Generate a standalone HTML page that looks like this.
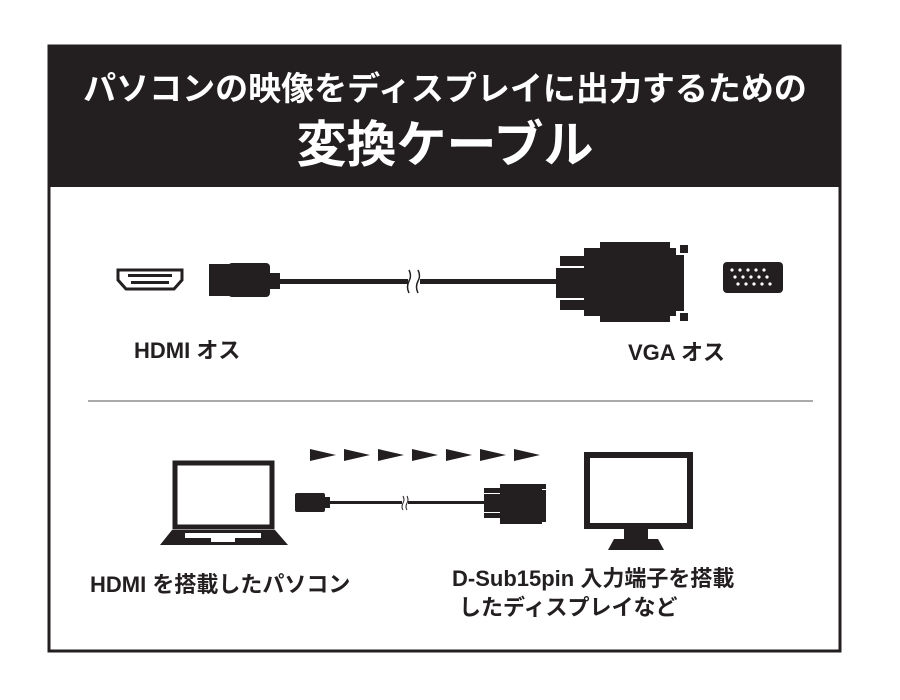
<!DOCTYPE html>
<html><head><meta charset="utf-8"><style>
html,body{margin:0;padding:0;background:#fff;}
svg{display:block}
text{font-family:"Liberation Sans","Noto Sans CJK JP",sans-serif;font-weight:bold;}
</style></head><body>
<svg width="900" height="700" viewBox="0 0 900 700">
<rect x="49" y="46" width="791" height="605" fill="#fff" stroke="#231f20" stroke-width="3"/>
<rect x="48" y="45" width="793" height="142" fill="#231f20"/>
<text x="445" y="100" fill="#fff" font-size="33" text-anchor="middle">パソコンの映像をディスプレイに出力するための</text>
<text x="445" y="162" fill="#fff" font-size="50" text-anchor="middle">変換ケーブル</text>

<!-- HDMI port -->
<path d="M118 270 H182 V280 L174 289 H126 L118 280 Z" fill="#fff" stroke="#231f20" stroke-width="3"/>
<rect x="128" y="274" width="44" height="3" fill="#231f20"/>
<rect x="131" y="281" width="38" height="3" fill="#231f20"/>
<!-- HDMI plug -->
<rect x="209" y="264" width="26" height="32" fill="#231f20"/>
<rect x="228" y="263" width="42" height="34" rx="4" fill="#231f20"/>
<rect x="268" y="273" width="12" height="16" fill="#231f20"/>
<rect x="278" y="279" width="130" height="5" fill="#231f20"/>
<rect x="420" y="279" width="140" height="5" fill="#231f20"/>
<path d="M409 270 q3 6 0 11 q-3 6 0 12 M418 270 q3 6 0 11 q-3 6 0 12" stroke="#231f20" stroke-width="1.5" fill="none"/>
<!-- VGA plug -->
<rect x="556" y="268" width="30" height="30" fill="#231f20"/>
<rect x="560" y="256" width="30" height="10" fill="#231f20"/>
<rect x="560" y="300" width="30" height="10" fill="#231f20"/>
<rect x="584" y="248" width="92" height="68" fill="#231f20"/>
<rect x="600" y="242" width="70" height="80" fill="#231f20"/>
<rect x="674" y="255" width="10" height="56" fill="#231f20"/>
<rect x="680" y="245" width="8" height="8" fill="#231f20"/>
<rect x="680" y="313" width="8" height="8" fill="#231f20"/>
<!-- VGA port -->
<rect x="723" y="262" width="60" height="31" rx="4" fill="#231f20"/>
<g fill="#fff">
<circle cx="732" cy="270" r="1.6"/><circle cx="740" cy="270" r="1.6"/><circle cx="748" cy="270" r="1.6"/><circle cx="756" cy="270" r="1.6"/><circle cx="764" cy="270" r="1.6"/>
<circle cx="735" cy="277" r="1.6"/><circle cx="743" cy="277" r="1.6"/><circle cx="751" cy="277" r="1.6"/><circle cx="759" cy="277" r="1.6"/><circle cx="767" cy="277" r="1.6"/>
<circle cx="738" cy="284" r="1.6"/><circle cx="746" cy="284" r="1.6"/><circle cx="754" cy="284" r="1.6"/><circle cx="762" cy="284" r="1.6"/><circle cx="770" cy="284" r="1.6"/>
</g>
<text x="134" y="358" font-size="22" fill="#231f20">HDMI オス</text>
<text x="628" y="360" font-size="22" fill="#231f20">VGA オス</text>
<line x1="88" y1="401" x2="813" y2="401" stroke="#555" stroke-width="1"/>

<!-- arrows -->
<g fill="#231f20">
<path d="M310 449 L336 455 L310 461Z"/><path d="M344 449 L370 455 L344 461Z"/><path d="M378 449 L404 455 L378 461Z"/><path d="M412 449 L438 455 L412 461Z"/><path d="M446 449 L472 455 L446 461Z"/><path d="M480 449 L506 455 L480 461Z"/><path d="M514 449 L540 455 L514 461Z"/>
</g>
<!-- laptop -->
<rect x="175" y="463" width="97" height="64" fill="none" stroke="#231f20" stroke-width="5"/>
<path d="M172 530 H275 L288 545 H160 Z" fill="#231f20"/>
<rect x="185" y="533" width="76" height="5" fill="#fff"/>
<rect x="211" y="538" width="24" height="4" fill="#fff"/>
<!-- small cable -->
<rect x="295" y="493" width="30" height="19" rx="2" fill="#231f20"/>
<rect x="323" y="497" width="7" height="11" fill="#231f20"/>
<rect x="330" y="501" width="72" height="3" fill="#231f20"/>
<rect x="408" y="501" width="78" height="3" fill="#231f20"/>
<path d="M403 496 q2 4 0 7 q-2 4 0 7 M407 496 q2 4 0 7 q-2 4 0 7" stroke="#231f20" stroke-width="1" fill="none"/>
<rect x="484" y="494" width="20" height="18" fill="#231f20"/>
<rect x="484" y="488" width="16" height="5" fill="#231f20"/>
<rect x="484" y="513" width="16" height="5" fill="#231f20"/>
<rect x="500" y="484" width="42" height="40" fill="#231f20"/>
<rect x="540" y="490" width="6" height="32" fill="#231f20"/>
<rect x="542" y="484" width="4" height="5" fill="#231f20"/>
<!-- monitor -->
<rect x="587" y="455" width="103" height="71" fill="none" stroke="#231f20" stroke-width="6"/>
<rect x="624" y="528" width="24" height="11" fill="#231f20"/>
<path d="M614 539 H658 L664 550 H608 Z" fill="#231f20"/>

<text x="90" y="592" font-size="22" fill="#231f20">HDMI を搭載したパソコン</text>
<text x="452" y="586" font-size="22" fill="#231f20">D-Sub15pin 入力端子を搭載</text>
<text x="459" y="615" font-size="22" fill="#231f20">したディスプレイなど</text>
</svg>
</body></html>
